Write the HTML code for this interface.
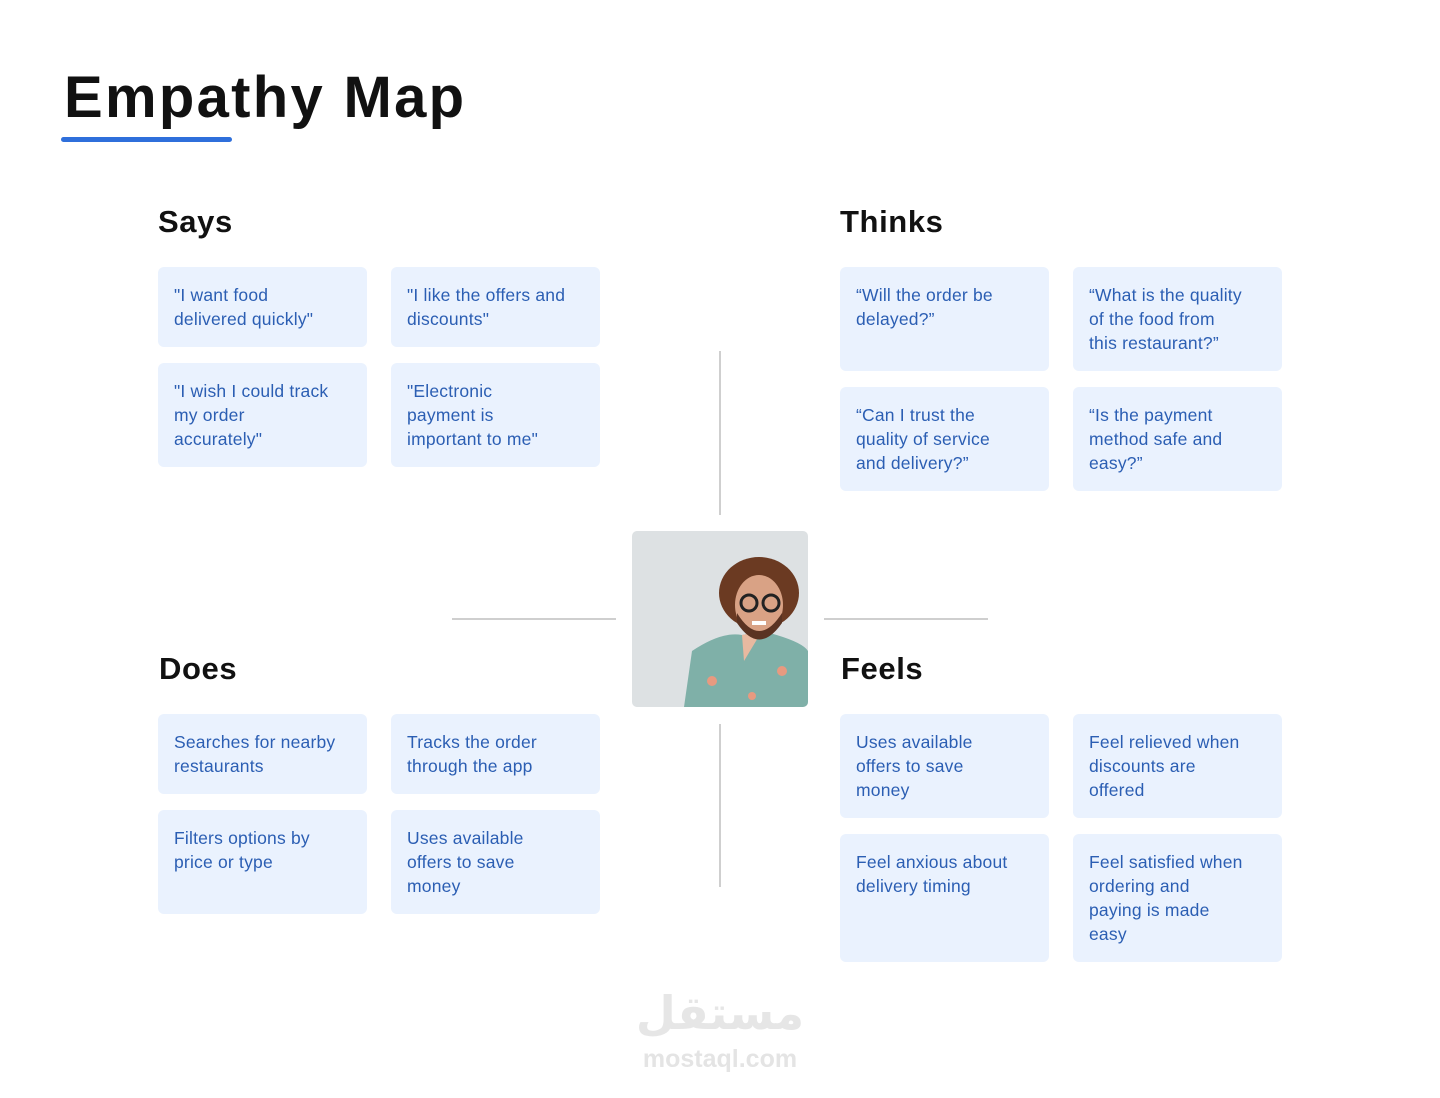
<!DOCTYPE html>
<html><head><meta charset="utf-8"><style>
body{margin:0;width:1440px;height:1098px;background:#fff;position:relative;overflow:hidden;font-family:"Liberation Sans",sans-serif}
.a{position:absolute}
h1{position:absolute;left:64px;top:64px;margin:0;font-size:58px;font-weight:bold;color:#111;letter-spacing:2.3px}
.h{position:absolute;font-size:31px;font-weight:bold;color:#111;margin:0;letter-spacing:0.6px}
.c{position:absolute;width:209px;background:#eaf2fe;border-radius:6px;box-sizing:border-box;padding:16px 0 0 16px;color:#2b5eb3;font-size:17.5px;line-height:24px;white-space:nowrap;letter-spacing:0.2px}
.vl{position:absolute;left:719px;width:2px;background:#cfcfcf}
.hl{position:absolute;top:618px;height:2px;background:#cfcfcf}
</style></head><body>
<h1>Empathy Map</h1>
<div class="a" style="left:61px;top:137px;width:171px;height:5px;background:#2f6fdb;border-radius:3px"></div>

<div class="h" style="left:158px;top:204px">Says</div>
<div class="h" style="left:840px;top:204px">Thinks</div>
<div class="h" style="left:159px;top:651px">Does</div>
<div class="h" style="left:841px;top:651px">Feels</div>

<div class="c" style="left:158px;top:267px;height:80px">"I want food<br>delivered quickly"</div>
<div class="c" style="left:391px;top:267px;height:80px">"I like the offers and<br>discounts"</div>
<div class="c" style="left:158px;top:363px;height:104px">"I wish I could track<br>my order<br>accurately"</div>
<div class="c" style="left:391px;top:363px;height:104px">"Electronic<br>payment is<br>important to me"</div>

<div class="c" style="left:840px;top:267px;height:104px">“Will the order be<br>delayed?”</div>
<div class="c" style="left:1073px;top:267px;height:104px">“What is the quality<br>of the food from<br>this restaurant?”</div>
<div class="c" style="left:840px;top:387px;height:104px">“Can I trust the<br>quality of service<br>and delivery?”</div>
<div class="c" style="left:1073px;top:387px;height:104px">“Is the payment<br>method safe and<br>easy?”</div>

<div class="c" style="left:158px;top:714px;height:80px">Searches for nearby<br>restaurants</div>
<div class="c" style="left:391px;top:714px;height:80px">Tracks the order<br>through the app</div>
<div class="c" style="left:158px;top:810px;height:104px">Filters options by<br>price or type</div>
<div class="c" style="left:391px;top:810px;height:104px">Uses available<br>offers to save<br>money</div>

<div class="c" style="left:840px;top:714px;height:104px">Uses available<br>offers to save<br>money</div>
<div class="c" style="left:1073px;top:714px;height:104px">Feel relieved when<br>discounts are<br>offered</div>
<div class="c" style="left:840px;top:834px;height:128px">Feel anxious about<br>delivery timing</div>
<div class="c" style="left:1073px;top:834px;height:128px">Feel satisfied when<br>ordering and<br>paying is made<br>easy</div>

<div class="vl" style="top:351px;height:164px"></div>
<div class="vl" style="top:724px;height:163px"></div>
<div class="hl" style="left:452px;width:164px"></div>
<div class="hl" style="left:824px;width:164px"></div>

<svg class="a" style="left:632px;top:531px" width="176" height="176" viewBox="0 0 176 176">
<defs><clipPath id="r"><rect width="176" height="176" rx="5"/></clipPath></defs>
<g clip-path="url(#r)">
<rect width="176" height="176" fill="#dde1e3"/>
<path d="M52 176 L60 120 Q90 100 110 104 L130 100 Q170 110 176 120 L176 176Z" fill="#7fb0a8"/>
<path d="M110 104 L112 130 L130 100Z" fill="#e8b9a0"/>
<ellipse cx="127" cy="62" rx="40" ry="36" fill="#6b3a22"/>
<ellipse cx="127" cy="74" rx="24" ry="30" fill="#d9a285"/>
<path d="M105 82 Q127 118 150 82 L150 92 Q127 125 105 92Z" fill="#5a3322"/>
<circle cx="117" cy="72" r="8" fill="none" stroke="#222" stroke-width="3"/>
<circle cx="139" cy="72" r="8" fill="none" stroke="#222" stroke-width="3"/>
<rect x="120" y="90" width="14" height="4" fill="#fff"/>
<circle cx="80" cy="150" r="5" fill="#e89a80"/><circle cx="150" cy="140" r="5" fill="#e89a80"/><circle cx="120" cy="165" r="4" fill="#e89a80"/>
</g></svg>

<div class="a" style="left:632px;top:988px;width:176px;text-align:center;font-size:46px;font-weight:bold;color:#e6e6e6;font-family:'DejaVu Sans',sans-serif;line-height:50px">مستقل</div>
<div class="a" style="left:632px;top:1044px;width:176px;text-align:center;font-size:25px;font-weight:bold;color:#e4e4e4;line-height:30px">mostaql.com</div>
</body></html>
